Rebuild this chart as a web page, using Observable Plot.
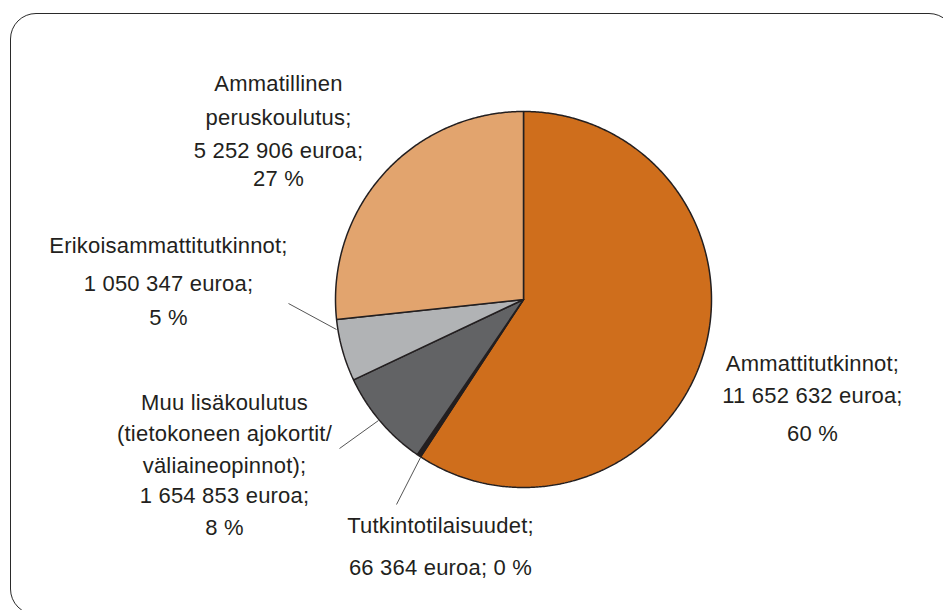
<!DOCTYPE html>
<html>
<head>
<meta charset="utf-8">
<script src="https://cdn.jsdelivr.net/npm/d3@7"></script>
<script src="https://cdn.jsdelivr.net/npm/@observablehq/plot@0.6"></script>
<style>
  html, body { margin: 0; padding: 0; background: #fff; }
  #wrap { position: relative; width: 943px; height: 610px; overflow: hidden; }
  #frame { position: absolute; left: 10px; top: 13px; width: 943px; height: 600px;
           border: 1.4px solid #2a2a2a; border-radius: 26px; pointer-events: none; }
  #chart { position: absolute; left: 0; top: 0; }
</style>
</head>
<body>
<div id="wrap"><div id="chart"></div><div id="frame"></div></div>
<script>
// ---- data (clockwise from 12 o'clock) ----
const names = ["Ammattitutkinnot", "Tutkintotilaisuudet", "Muu lisäkoulutus", "Erikoisammattitutkinnot", "Ammatillinen peruskoulutus"];
const values = [11652632, 66364, 1654853, 1050347, 5252906];
const pctLabels = [60, 0, 8, 5, 27];
const nameLines = [
  ["Ammattitutkinnot;"],
  ["Tutkintotilaisuudet;"],
  ["Muu lisäkoulutus", "(tietokoneen ajokortit/", "väliaineopinnot);"],
  ["Erikoisammattitutkinnot;"],
  ["Ammatillinen", "peruskoulutus;"]
];
const colors = ["#CF6E1C", "#231F20", "#626365", "#B1B3B5", "#E2A46E"];

// ---- layout (pixels) ----
const CX = 523, CY = 299, R = 188;
const labelLayout = [
  {x: 812, ys: [363, 395, 433]},
  {x: 440, ys: [525, 567], joined: true},
  {x: 224, ys: [402, 433, 465, 495, 527]},
  {x: 168, ys: [245, 283, 317]},
  {x: 278, ys: [83, 117, 150, 178]}
];
const leaders = [
  {x1: 288, y1: 303, x2: 336, y2: 329},
  {x1: 339, y1: 448, x2: 378, y2: 420},
  {x1: 396, y1: 504, x2: 420, y2: 457}
];

// ---- build slice polygons from values ----
const arcs = d3.pie().sort(null).value(d => d.v)(names.map((n, i) => ({n, v: values[i]})));
const polys = [];
arcs.forEach(a => {
  const key = a.data.n;
  polys.push({key, x: CX, y: CY});
  const steps = Math.max(2, Math.ceil((a.endAngle - a.startAngle) / (Math.PI / 360)));
  for (let k = 0; k <= steps; k++) {
    const t = a.startAngle + (a.endAngle - a.startAngle) * k / steps;
    polys.push({key, x: CX + R * Math.sin(t), y: CY - R * Math.cos(t)});
  }
  polys.push({key, x: CX, y: CY});
});

const fmt = v => d3.format(",")(v).replace(/,/g, " ");
const texts = [];
names.forEach((n, i) => {
  const L = labelLayout[i];
  let lines = nameLines[i].slice();
  if (L.joined) lines.push(fmt(values[i]) + " euroa; " + pctLabels[i] + " %");
  else { lines.push(fmt(values[i]) + " euroa;"); lines.push(pctLabels[i] + " %"); }
  lines.forEach((t, j) => texts.push({t, x: L.x, y: L.ys[j]}));
});

const chart = Plot.plot({
  width: 943, height: 610, margin: 0,
  x: {domain: [0, 943], range: [0, 943], axis: null},
  y: {domain: [0, 610], range: [0, 610], axis: null},
  color: {domain: names, range: colors},
  style: {fontFamily: "'Liberation Sans', Arial, sans-serif", letterSpacing: "0.2px", background: "transparent"},
  marks: [
    Plot.line(polys, {x: "x", y: "y", z: "key", fill: "key", stroke: "#231F20", strokeWidth: 1.5, strokeLinejoin: "miter"}),
    Plot.link(leaders, {x1: "x1", y1: "y1", x2: "x2", y2: "y2", stroke: "#555", strokeWidth: 1}),
    Plot.text(texts, {x: "x", y: "y", text: "t", fontSize: 22, fill: "#231F20", textAnchor: "middle", lineAnchor: "middle"})
  ]
});
document.getElementById("chart").appendChild(chart);
</script>
</body>
</html>
